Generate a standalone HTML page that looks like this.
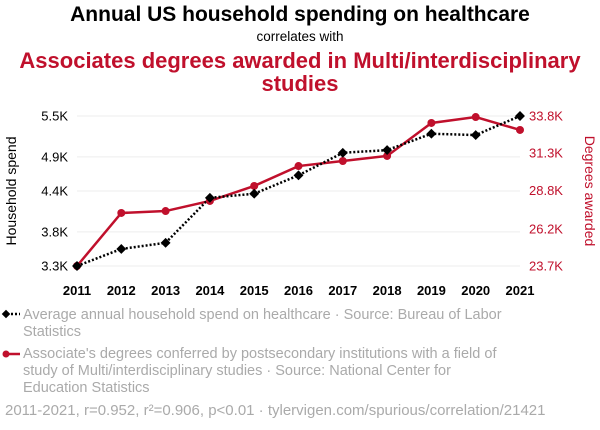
<!DOCTYPE html>
<html><head><meta charset="utf-8"><style>
body{margin:0;width:600px;height:430px;background:#fff;font-family:"Liberation Sans",sans-serif;overflow:hidden}
svg{display:block}
</style></head><body>
<svg id="c" width="600" height="430">
<text x="300" y="21" text-anchor="middle" font-size="21" font-weight="bold" fill="#000">Annual US household spending on healthcare</text>
<text x="300" y="41" text-anchor="middle" font-size="13.5" fill="#000">correlates with</text>
<text x="300" y="68" text-anchor="middle" font-size="22" font-weight="bold" fill="#c0102c">Associates degrees awarded in Multi/interdisciplinary</text>
<text x="300" y="91" text-anchor="middle" font-size="22" font-weight="bold" fill="#c0102c">studies</text>
<g id="grid"></g><g id="axes"></g><g id="marks"></g>
<text transform="translate(16,191) rotate(-90)" text-anchor="middle" font-size="14" fill="#000">Household spend</text>
<text transform="translate(585,191) rotate(90)" text-anchor="middle" font-size="14" fill="#c0102c">Degrees awarded</text>
<g>
<line x1="3" y1="314" x2="20" y2="314" stroke="#000" stroke-width="2.5" stroke-dasharray="2,2"/>
<rect x="3" y="311" width="6" height="6" fill="#000" transform="rotate(45 6 314)"/>
<text x="23" y="319" font-size="14.5" fill="#aaa">Average annual household spend on healthcare · Source: Bureau of Labor</text>
<text x="23" y="336" font-size="14.5" fill="#aaa">Statistics</text></g>
<g>
<line x1="3" y1="354" x2="20" y2="354" stroke="#c0102c" stroke-width="2.5"/>
<circle cx="6" cy="354" r="3.5" fill="#c0102c"/>
<text x="23" y="358" font-size="14.5" fill="#aaa">Associate's degrees conferred by postsecondary institutions with a field of</text>
<text x="23" y="375" font-size="14.5" fill="#aaa">study of Multi/interdisciplinary studies · Source: National Center for</text>
<text x="23" y="392" font-size="14.5" fill="#aaa">Education Statistics</text></g>
<text x="5" y="415" font-size="15" fill="#aaa">2011-2021, r=0.952, r²=0.906, p&lt;0.01 · tylervigen.com/spurious/correlation/21421</text>
</svg>
<script>
const years=[2011,2012,2013,2014,2015,2016,2017,2018,2019,2020,2021];
const spend=[3.3,3.55,3.64,4.30,4.36,4.63,4.96,5.00,5.24,5.22,5.5];
const degrees=[23.7,27.27,27.40,28.08,29.09,30.43,30.77,31.11,33.33,33.73,32.86];
const leftTicks=[3.3,3.8,4.4,4.9,5.5];
const leftLabels=["3.3K","3.8K","4.4K","4.9K","5.5K"];
const rightTicks=[23.7,26.2,28.8,31.3,33.8];
const rightLabels=["23.7K","26.2K","28.8K","31.3K","33.8K"];
const NS="http://www.w3.org/2000/svg";
const x=v=>77+(v-2011)/10*443;
const yl=v=>266-(v-3.3)/2.2*150;
const yr=v=>266-(v-23.7)/10.1*150;
function mk(p,t,a){const e=document.createElementNS(NS,t);for(const k in a)e.setAttribute(k,a[k]);document.getElementById(p).appendChild(e);return e;}
leftTicks.forEach((t,i)=>{
 const g=mk('grid','line',{x1:77,x2:520,y1:yl(t),y2:yl(t),stroke:'#eee','stroke-width':1});
 
 
 const l=mk('axes','text',{x:68,y:yl(t)+4.5,'text-anchor':'end','font-size':13,fill:'#000'});
 l.textContent=leftLabels[i];
 
 
});
rightTicks.forEach((t,i)=>{
 const l=mk('axes','text',{x:529,y:yr(t)+4.5,'font-size':13,fill:'#c0102c'});
 l.textContent=rightLabels[i];
 
 
});
years.forEach(yv=>{
 const l=mk('axes','text',{x:x(yv),y:295,'text-anchor':'middle','font-size':13,'font-weight':'bold',fill:'#000'});
 l.textContent=yv;
 
 
});
const rl=mk('marks','polyline',{points:years.map((yv,i)=>x(yv)+','+yr(degrees[i])).join(' '),fill:'none',stroke:'#c0102c','stroke-width':2.5});


const bl=mk('marks','polyline',{points:years.map((yv,i)=>x(yv)+','+yl(spend[i])).join(' '),fill:'none',stroke:'#000','stroke-width':2.5,'stroke-dasharray':'2,2'});


years.forEach((yv,i)=>{
 const c=mk('marks','circle',{cx:x(yv),cy:yr(degrees[i]),r:4,fill:'#c0102c'});
 
 
 const cx=x(yv),cy=yl(spend[i]);
 const d=mk('marks','rect',{x:cx-3.5,y:cy-3.5,width:7,height:7,fill:'#000',transform:`rotate(45 ${cx} ${cy})`});
 
 
});
</script>
</body></html>
